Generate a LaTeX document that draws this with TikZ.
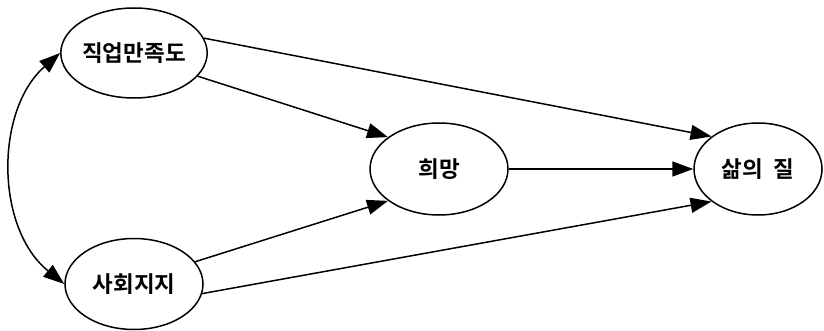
\documentclass[tikz,border=0pt]{standalone}
\usepackage{fontspec}
\newfontfamily\kr{Noto Sans CJK KR}[BoldFont={Noto Sans CJK KR Bold}]
\usetikzlibrary{shapes.geometric,arrows.meta}
\begin{document}
\begin{tikzpicture}[x=1pt,y=-1pt,
  var/.style={ellipse,draw,line width=1.5pt,inner sep=0pt,font=\kr\bfseries\fontsize{22.5}{27}\selectfont},
  conn/.style={line width=1.5pt,-{Triangle[length=21pt,width=15pt]}},
  dconn/.style={line width=1.5pt,{Triangle[length=21pt,width=15pt]}-{Triangle[length=21pt,width=15pt]}}]
\useasboundingbox (0,0) rectangle (824,331);
\node[var,minimum width=138pt,minimum height=90pt] (job) at (134,53) {직업만족도};
\node[var,minimum width=138pt,minimum height=91pt] (soc) at (134,284) {사회지지};
\node[var,minimum width=138pt,minimum height=92pt] (hope) at (439,169) {희망};
\node[var,minimum width=128pt,minimum height=92pt] (qol) at (758,169) {삶의\hspace{0.45em}질};
\draw[dconn] (job.west) .. controls (-5,110) and (-5,228) .. (soc.west);
\draw[conn] (job.12) -- (qol.145);
\draw[conn] (job.-20) -- (hope.148);
\draw[conn] (soc.20) -- (hope.-148);
\draw[conn] (soc.-8) -- (qol.-145);
\draw[conn] (hope.east) -- (qol.west);
\end{tikzpicture}
\end{document}
